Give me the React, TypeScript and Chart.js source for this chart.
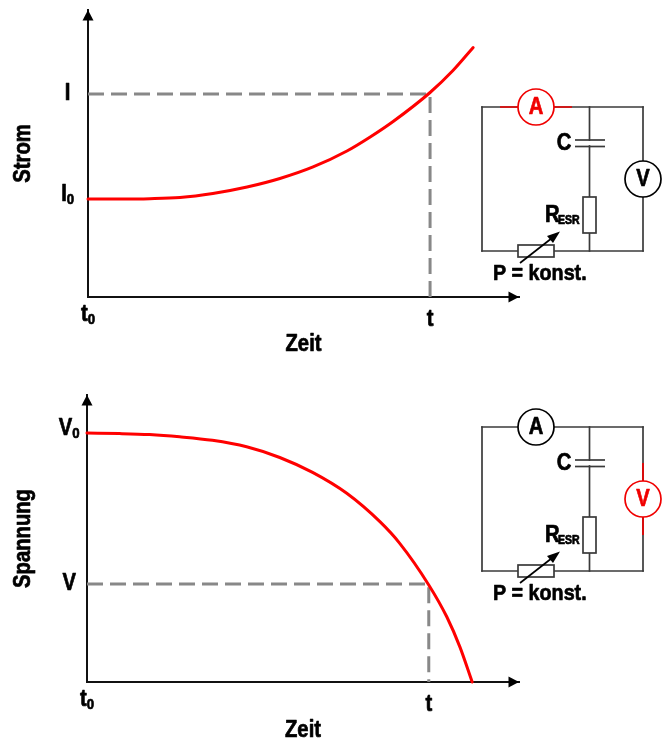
import React, { useEffect, useRef } from "react";
import { Chart, registerables } from "chart.js";

Chart.register(...registerables);

const FONT = '"Liberation Sans", Arial, sans-serif';
const FONT_SIZE = 23;
const CONDENSE = 0.88;

// Current chart (time in units of t, current in units of I0)
const currentTime = [0, 0.094, 0.181, 0.269, 0.365, 0.465, 0.561, 0.658, 0.757, 0.825, 0.892, 1, 1.067, 1.126];
const currentValues = [1, 1, 1.003, 1.015, 1.056, 1.122, 1.209, 1.327, 1.49, 1.633, 1.791, 2.087, 2.311, 2.546];
const currentTicks = [1, 2.071];
const currentTickLabels = ["I₀", "I"];
const currentGuideX = [0, 1, 1];
const currentGuideY = [2.071, 2.071, 0];

// Voltage chart (time in units of t, voltage in units of V0)
const voltageTime = [0, 0.095, 0.183, 0.271, 0.367, 0.467, 0.564, 0.66, 0.76, 0.857, 0.915, 1, 1.053, 1.091, 1.127];
const voltageValues = [1, 0.998, 0.994, 0.985, 0.971, 0.945, 0.902, 0.842, 0.758, 0.644, 0.557, 0.39, 0.261, 0.141, 0];
const voltageTicks = [0.394, 1];
const voltageTickLabels = ["V", "V₀"];
const voltageGuideX = [0, 1, 1];
const voltageGuideY = [0.394, 0.394, 0];

const timeTicks = [0, 1];
const timeTickLabels = ["t₀", "t"];

function pts(xs: number[], ys: number[]) {
  return xs.map((x, i) => ({ x, y: ys[i] }));
}

// No condensed face is installed: all canvas text is squeezed horizontally and
// a trailing subscript zero is set as a smaller digit.
function condenseText(canvas: HTMLCanvasElement) {
  const ctx = canvas.getContext("2d") as CanvasRenderingContext2D;
  const fill = ctx.fillText.bind(ctx);
  const stroke = ctx.strokeText.bind(ctx);
  const put = (t: string, x: number, y: number) => {
    stroke(t, x, y);
    fill(t, x, y);
  };
  (ctx as any).fillText = (text: string, x: number, y: number) => {
    ctx.save();
    ctx.translate(x, y);
    ctx.scale(CONDENSE, 1);
    ctx.lineWidth = 0.7;
    ctx.lineJoin = "round";
    ctx.strokeStyle = ctx.fillStyle;
    if (String(text).endsWith("₀")) {
      const base = String(text).slice(0, -1);
      const m = ctx.measureText(base);
      const w1 = m.width;
      const baseFont = ctx.font;
      const small = `bold 15px ${FONT}`;
      ctx.font = small;
      const w2 = ctx.measureText("0").width;
      ctx.font = baseFont;
      const total = w1 + w2;
      const start = ctx.textAlign === "center" ? -total / 2 : ctx.textAlign === "right" ? -total : 0;
      let by = 0;
      if (ctx.textBaseline === "middle") by = (m.fontBoundingBoxAscent - m.fontBoundingBoxDescent) / 2;
      else if (ctx.textBaseline === "top") by = m.fontBoundingBoxAscent;
      ctx.textAlign = "left";
      ctx.textBaseline = "alphabetic";
      put(base, start, by);
      ctx.font = small;
      put("0", start + w1, by + 3);
    } else {
      put(text, 0, 0);
    }
    ctx.restore();
  };
}

function drawArrowHeads(chart: any) {
  const { ctx, chartArea: a } = chart;
  ctx.save();
  ctx.fillStyle = "#000";
  ctx.beginPath();
  ctx.moveTo(a.left, a.top);
  ctx.lineTo(a.left - 5.5, a.top + 10.5);
  ctx.lineTo(a.left + 5.5, a.top + 10.5);
  ctx.closePath();
  ctx.fill();
  ctx.beginPath();
  ctx.moveTo(a.right, a.bottom);
  ctx.lineTo(a.right - 10.5, a.bottom - 5.5);
  ctx.lineTo(a.right - 10.5, a.bottom + 5.5);
  ctx.closePath();
  ctx.fill();
  ctx.restore();
}

function drawCircuit(ctx: CanvasRenderingContext2D, dy: number, red: "A" | "V") {
  const wire = "#3a3a3a";
  const RED = "#f00000";
  const L = 482, R = 643, T = 107 + dy, B = 251 + dy, M = 589.5;
  const seg = (x1: number, y1: number, x2: number, y2: number, c = wire) => {
    ctx.strokeStyle = c;
    ctx.beginPath();
    ctx.moveTo(x1, y1);
    ctx.lineTo(x2, y2);
    ctx.stroke();
  };
  ctx.save();
  ctx.lineWidth = 1.7;
  ctx.lineCap = "square";
  seg(L, T, R, T);
  seg(L, T, L, B);
  seg(R, T, R, B);
  seg(L, B, R, B);
  seg(M, T, M, 140 + dy);
  seg(M, 146 + dy, M, 197 + dy);
  seg(M, 233 + dy, M, B);
  ctx.lineCap = "butt";
  if (red === "A") seg(500, T, 572, T, RED);
  else seg(R, 143 + dy, R, 215 + dy, RED);
  // capacitor
  seg(575, 140 + dy, 605, 140 + dy);
  seg(575, 146.5 + dy, 605, 146.5 + dy);
  // resistors
  ctx.strokeStyle = wire;
  ctx.fillStyle = "#fff";
  ctx.fillRect(583, 197 + dy, 13, 36);
  ctx.strokeRect(583, 197 + dy, 13, 36);
  ctx.fillRect(518, 245 + dy, 36, 12);
  ctx.strokeRect(518, 245 + dy, 36, 12);
  // meters
  const meter = (cx: number, cy: number, t: string, c: string) => {
    ctx.strokeStyle = c;
    ctx.fillStyle = "#fff";
    ctx.beginPath();
    ctx.arc(cx, cy, 18, 0, Math.PI * 2);
    ctx.fill();
    ctx.stroke();
    ctx.fillStyle = c;
    ctx.font = `bold ${FONT_SIZE}px ${FONT}`;
    ctx.textAlign = "center";
    ctx.textBaseline = "middle";
    ctx.fillText(t, cx, cy + 1);
  };
  meter(536, T, "A", red === "A" ? RED : "#000");
  meter(R, 179 + dy, "V", red === "V" ? RED : "#000");
  // adjuster arrow
  seg(520, 263 + dy, 552, 238 + dy, "#000");
  ctx.fillStyle = "#000";
  ctx.beginPath();
  ctx.moveTo(560, 231.5 + dy);
  ctx.lineTo(547, 236 + dy);
  ctx.lineTo(553, 243 + dy);
  ctx.closePath();
  ctx.fill();
  // labels
  ctx.fillStyle = "#000";
  ctx.textBaseline = "middle";
  ctx.textAlign = "center";
  ctx.font = `bold ${FONT_SIZE}px ${FONT}`;
  ctx.fillText("C", 564, 144 + dy);
  ctx.textAlign = "left";
  ctx.fillText("R", 545, 216 + dy);
  ctx.font = `bold 12px ${FONT}`;
  ctx.fillText("ESR", 558, 221 + dy);
  ctx.font = `bold 22.4px ${FONT}`;
  ctx.fillText("P = konst.", 493, 274 + dy);
  ctx.restore();
}

function makeConfig(opts: {
  curve: { x: number; y: number }[];
  guide: { x: number; y: number }[];
  xMax: number;
  yMax: number;
  yTicks: number[];
  yLabels: string[];
  yTitle: string;
  leftW: number;
  bottomH: number;
  top: number;
  tickPad: number;
  titleBottom: number;
  circuitDy: number;
  red: "A" | "V";
}): any {
  const font = { family: FONT, size: FONT_SIZE, weight: "bold" };
  return {
    type: "line",
    data: {
      datasets: [
        {
          data: opts.curve,
          borderColor: "#ff0000",
          borderWidth: 3,
          pointRadius: 0,
          cubicInterpolationMode: "monotone",
          borderCapStyle: "round",
          clip: false,
        },
        {
          data: opts.guide,
          borderColor: "#888888",
          borderWidth: 3,
          borderDash: [16, 7],
          pointRadius: 0,
          tension: 0,
          clip: false,
        },
      ],
    },
    options: {
      animation: false,
      responsive: false,
      events: [],
      layout: { padding: { left: 0, right: 147, top: opts.top, bottom: 0 } },
      plugins: { legend: { display: false }, tooltip: { enabled: false } },
      scales: {
        x: {
          type: "linear",
          min: 0,
          max: opts.xMax,
          grid: { display: false, drawTicks: false },
          border: { display: true, color: "#111", width: 2 },
          afterBuildTicks: (s: any) => { s.ticks = timeTicks.map((value) => ({ value })); },
          afterFit: (s: any) => {
            s.height = opts.bottomH;
            s.paddingLeft = 0;
            s.paddingRight = 0;
          },
          ticks: {
            autoSkip: false,
            maxRotation: 0,
            padding: 9,
            color: "#000",
            font,
            callback: (v: number) => timeTickLabels[timeTicks.indexOf(v)],
          },
          title: {
            display: true,
            text: "Zeit",
            color: "#000",
            font,
            padding: { top: 0, bottom: opts.titleBottom },
          },
        },
        y: {
          type: "linear",
          min: 0,
          max: opts.yMax,
          grid: { display: false, drawTicks: false },
          border: { display: true, color: "#111", width: 2 },
          afterBuildTicks: (s: any) => { s.ticks = opts.yTicks.map((value) => ({ value })); },
          afterFit: (s: any) => {
            s.width = opts.leftW;
            s.paddingTop = 0;
            s.paddingBottom = 0;
          },
          ticks: {
            autoSkip: false,
            padding: opts.tickPad,
            crossAlign: "center",
            color: "#000",
            font,
            callback: (v: number) => opts.yLabels[opts.yTicks.indexOf(v)],
          },
          title: {
            display: true,
            text: opts.yTitle,
            color: "#000",
            font,
            padding: { top: 10, bottom: 0 },
          },
        },
      },
    },
    plugins: [
      {
        id: "decor",
        afterDraw(chart: any) {
          drawArrowHeads(chart);
          drawCircuit(chart.ctx, opts.circuitDy, opts.red);
        },
      },
    ],
  };
}

export default function App() {
  const topRef = useRef<HTMLCanvasElement>(null);
  const botRef = useRef<HTMLCanvasElement>(null);
  useEffect(() => {
    condenseText(topRef.current!);
    condenseText(botRef.current!);
    const top = new Chart(
      topRef.current!,
      makeConfig({
        curve: pts(currentTime, currentValues),
        guide: pts(currentGuideX, currentGuideY),
        xMax: 1.26,
        yMax: 2.929,
        yTicks: currentTicks,
        yLabels: currentTickLabels,
        yTitle: "Strom",
        leftW: 88,
        bottomH: 73,
        top: 10,
        tickPad: 12,
        titleBottom: 12,
        circuitDy: 0,
        red: "A",
      })
    );
    const bot = new Chart(
      botRef.current!,
      makeConfig({
        curve: pts(voltageTime, voltageValues),
        guide: pts(voltageGuideX, voltageGuideY),
        xMax: 1.264,
        yMax: 1.153,
        yTicks: voltageTicks,
        yLabels: voltageTickLabels,
        yTitle: "Spannung",
        leftW: 87,
        bottomH: 58,
        top: 25,
        tickPad: 5,
        titleBottom: -4,
        circuitDy: -50,
        red: "V",
      })
    );
    return () => {
      top.destroy();
      bot.destroy();
    };
  }, []);
  return (
    <div style={{ position: "absolute", left: 0, top: 0, width: 666, height: 740, background: "#fff" }}>
      <canvas ref={topRef} width={666} height={370} style={{ position: "absolute", left: 0, top: 0 }} />
      <canvas ref={botRef} width={666} height={370} style={{ position: "absolute", left: 0, top: 370 }} />
    </div>
  );
}
